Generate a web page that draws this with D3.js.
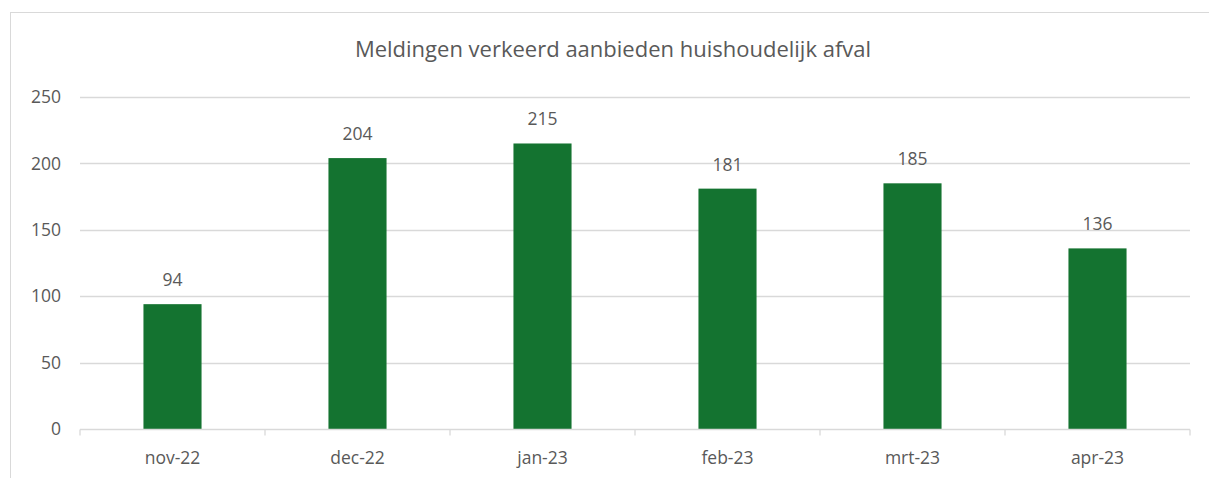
<!DOCTYPE html>
<html>
<head>
<meta charset="utf-8">
<script src="https://cdn.jsdelivr.net/npm/d3@7"></script>
<style>
	body { margin: 0; background: #fff; }
	svg text { font-family: "Open Sans", "Liberation Sans", sans-serif; fill: #595959; }
</style>
</head>
<body>
<script>
const title = "Meldingen verkeerd aanbieden huishoudelijk afval";
const months = ["nov-22", "dec-22", "jan-23", "feb-23", "mrt-23", "apr-23"];
const meldingen = [94, 204, 215, 181, 185, 136];
const yTicks = [0, 50, 100, 150, 200, 250];

const width = 1209, height = 478;
const plot = {left: 80, right: 1190, top: 97, bottom: 429};

const svg = d3.select("body").append("svg")
	.attr("width", width)
	.attr("height", height);

// chart frame (only top and left edge fall inside the picture)
svg.append("rect")
	.attr("x", 10.5)
	.attr("y", 12.5)
	.attr("width", 1220)
	.attr("height", 500)
	.attr("fill", "none")
	.attr("stroke", "#d9d9d9")
	.attr("stroke-width", 1);

svg.append("text")
	.attr("x", 613)
	.attr("y", 57)
	.attr("text-anchor", "middle")
	.attr("font-size", 22)
	.text(title);

const x = d3.scaleBand()
	.domain(months)
	.range([plot.left, plot.right])
	.paddingInner(0.686)
	.paddingOuter(0.343);

const xOuter = d3.scaleBand()
	.domain(months)
	.range([plot.left, plot.right]);

const y = d3.scaleLinear()
	.domain([0, 250])
	.range([plot.bottom, plot.top]);

// gridlines
svg.append("g")
	.selectAll("line")
	.data(yTicks.filter(d => d > 0))
	.join("line")
	.attr("x1", plot.left)
	.attr("x2", plot.right)
	.attr("y1", d => Math.round(y(d)) + 0.5)
	.attr("y2", d => Math.round(y(d)) + 0.5)
	.attr("stroke", "#d9d9d9")
	.attr("stroke-width", 1.3);

// y axis labels
svg.append("g")
	.selectAll("text")
	.data(yTicks)
	.join("text")
	.attr("x", 61)
	.attr("y", d => y(d))
	.attr("dy", "0.35em")
	.attr("text-anchor", "end")
	.attr("font-size", 17.5)
	.text(d => d);

// bars
svg.append("g")
	.selectAll("rect")
	.data(months)
	.join("rect")
	.attr("x", d => x(d))
	.attr("y", (d, i) => y(meldingen[i]))
	.attr("width", x.bandwidth())
	.attr("height", (d, i) => y(0) - y(meldingen[i]))
	.attr("fill", "#147330");

// value labels
svg.append("g")
	.selectAll("text")
	.data(months)
	.join("text")
	.attr("x", d => x(d) + x.bandwidth() / 2)
	.attr("y", (d, i) => y(meldingen[i]) - 18)
	.attr("text-anchor", "middle")
	.attr("font-size", 17.5)
	.text((d, i) => meldingen[i]);

// x axis
const xAxis = svg.append("g")
	.attr("transform", `translate(0,${Math.round(y(0)) + 0.5})`);

xAxis.append("line")
	.attr("x1", plot.left)
	.attr("x2", plot.right)
	.attr("stroke", "#d9d9d9")
	.attr("stroke-width", 1.3);

xAxis.selectAll("line.tick")
	.data(months.concat(["end"]))
	.join("line")
	.attr("class", "tick")
	.attr("x1", (d, i) => i < months.length ? xOuter(d) : plot.right)
	.attr("x2", (d, i) => i < months.length ? xOuter(d) : plot.right)
	.attr("y1", 0)
	.attr("y2", 6)
	.attr("stroke", "#d9d9d9")
	.attr("stroke-width", 1.3);

xAxis.selectAll("text")
	.data(months)
	.join("text")
	.attr("x", d => xOuter(d) + xOuter.bandwidth() / 2)
	.attr("y", 34)
	.attr("text-anchor", "middle")
	.attr("font-size", 17.5)
	.text(d => d);
</script>
</body>
</html>
